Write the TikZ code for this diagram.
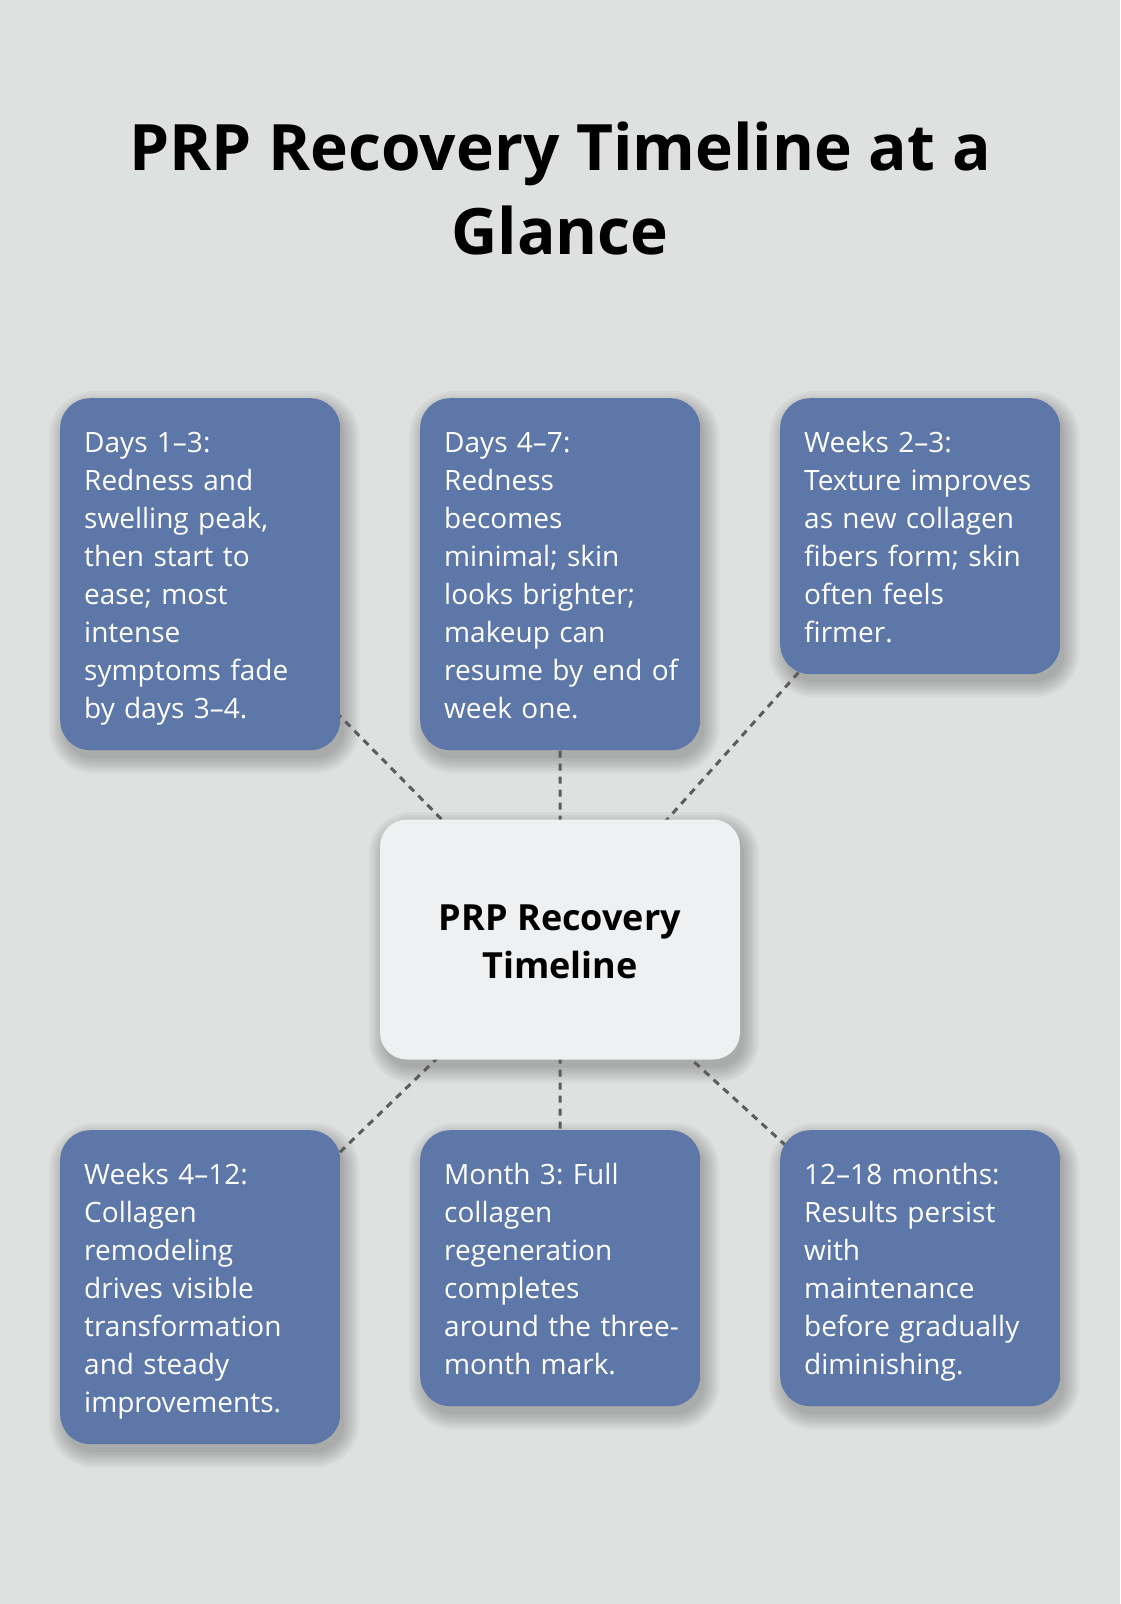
\documentclass[tikz,border=0pt]{standalone}
\usepackage{fontspec}
\setmainfont{Open Sans}
\definecolor{bgc}{HTML}{DFE1E0}
\definecolor{boxblue}{HTML}{5D77A8}
\definecolor{centerc}{HTML}{EFF0F2}
\definecolor{linec}{HTML}{5C5C5C}
\newcommand\bodystrut{\rule[-8pt]{0pt}{38pt}}
\newcommand\hubstrut{\rule[-9.5pt]{0pt}{48pt}}
\pgfdeclarelayer{bglayer}
\pgfdeclarelayer{shadowlayer}
\pgfdeclarelayer{linelayer}
\pgfsetlayers{bglayer,shadowlayer,linelayer,main}
\tikzset{
  stage/.style={fill=boxblue, rounded corners=30pt, anchor=north west,
    text width=240pt, inner xsep=20pt, inner ysep=24pt, align=left,
    text=white, font=\fontsize{28pt}{38pt}\selectfont\frenchspacing},
  hub/.style={fill=centerc, rounded corners=27pt, minimum width=360pt,
    minimum height=240pt, align=center, text=black, inner sep=0pt,
    font=\bfseries\fontsize{36pt}{48pt}\selectfont},
  link/.style={draw=linec, line width=3pt, dash pattern=on 7pt off 6pt},
  shadowpiece/.style={fill=black, opacity=0.036},
  titletext/.style={font=\bfseries\fontsize{64pt}{84pt}\selectfont,
    align=center, inner sep=0pt, anchor=north, text=black}
}
\begin{document}
\begin{tikzpicture}[x=1pt,y=-1pt]
\begin{pgfonlayer}{bglayer}
  \fill[bgc] (0,0) rectangle (1120,1604);
\end{pgfonlayer}
\useasboundingbox (0,0) rectangle (1120,1604);

\node[titletext] (title) at (560,110.7) {\rule{0pt}{60pt}PRP Recovery Timeline at a\\Glance};

\node[hub] (hub) at (560,939.5) {\hubstrut PRP Recovery\\\hubstrut Timeline};

\node[stage] (s1) at (60,398) {\leftskip=4pt\bodystrut Days 1–3:\\Redness and\\swelling peak,\\then start to\\ease; most\\intense\\symptoms fade\\by days 3–4.\bodystrut\par};
\node[stage] (s2) at (420,398) {\leftskip=4pt\bodystrut Days 4–7:\\Redness\\becomes\\minimal; skin\\looks brighter;\\makeup can\\resume by end of\\week one.\bodystrut\par};
\node[stage] (s3) at (780,398) {\leftskip=4pt\bodystrut Weeks 2–3:\\Texture improves\\as new collagen\\fibers form; skin\\often feels\\firmer.\bodystrut\par};
\node[stage] (s4) at (60,1130) {\leftskip=4pt\bodystrut Weeks 4–12:\\Collagen\\remodeling\\drives visible\\transformation\\and steady\\improvements.\bodystrut\par};
\node[stage] (s5) at (420,1130) {\leftskip=4pt\bodystrut Month 3: Full\\collagen\\regeneration\\completes\\around the three-\\month mark.\bodystrut\par};
\node[stage] (s6) at (780,1130) {\leftskip=4pt\bodystrut 12–18 months:\\Results persist\\with\\maintenance\\before gradually\\diminishing.\bodystrut\par};

\begin{pgfonlayer}{shadowlayer}
  \foreach \n/\rad in {s1/30,s2/30,s3/30,s4/30,s5/30,s6/30,hub/27}{
    \foreach \e in {0,2.5,...,15}{
      \pgfmathsetmacro\rr{\rad+\e}
      \fill[shadowpiece, rounded corners=\rr pt]
        ([shift={(4-\e,8-\e)}]\n.north west) rectangle ([shift={(4+\e,8+\e)}]\n.south east);
    }
  }
\end{pgfonlayer}

\begin{pgfonlayer}{linelayer}
  \foreach \n in {s1,s2,s3,s4,s5,s6}
    \draw[link] (hub.center) -- (\n.center);
\end{pgfonlayer}
\end{tikzpicture}
\end{document}
